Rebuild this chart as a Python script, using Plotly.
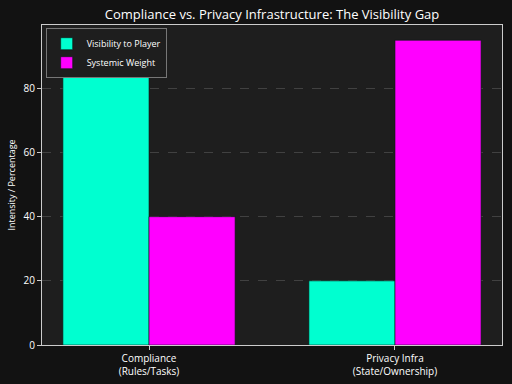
import plotly.graph_objects as go

categories = ["Compliance<br>(Rules/Tasks)", "Privacy Infra<br>(State/Ownership)"]
visibility = [85, 20]
systemic = [40, 95]
series_names = ["Visibility to Player", "Systemic Weight"]
y_ticks = [0, 20, 40, 60, 80]

FONT = "Open Sans"

fig = go.Figure()
fig.add_trace(go.Bar(x=categories, y=visibility, name=series_names[0],
                     marker=dict(color="#00FFD0", line=dict(color="#0a1a14", width=0.6))))
fig.add_trace(go.Bar(x=categories, y=systemic, name=series_names[1],
                     marker=dict(color="#FF00FF", line=dict(color="#0a1a14", width=0.6))))

fig.update_layout(
    width=512, height=384,
    barmode="group", bargap=0.3, bargroupgap=0,
    paper_bgcolor="#121212", plot_bgcolor="#1e1e1e",
    margin=dict(l=42, r=10, t=25, b=39, autoexpand=False),
    font=dict(family=FONT, color="white", size=10),
    title=dict(text="Compliance vs. Privacy Infrastructure: The Visibility Gap",
               x=272/512, xanchor="center", y=1-14/384, yanchor="middle",
               font=dict(size=13, color="white")),
    legend=dict(x=0.008, y=0.99, xanchor="left", yanchor="top",
                bgcolor="#1e1e1e", bordercolor="#777", borderwidth=1,
                font=dict(size=9, color="white"), itemwidth=30,
                tracegroupgap=0),
    showlegend=True,
)
fig.update_xaxes(range=[-0.435, 1.435], showgrid=False, automargin=False,
                 showline=True, linecolor="#cccccc", linewidth=1, mirror=True,
                 ticks="outside", ticklen=4, tickcolor="#cccccc",
                 tickfont=dict(size=10, color="white"))
fig.update_yaxes(range=[0, 99.75], tickvals=y_ticks, automargin=False,
                 showgrid=True, gridcolor="rgba(100,100,100,0.5)", griddash="dash", gridwidth=0.8,
                 layer="above traces", zeroline=False,
                 showline=True, linecolor="#cccccc", linewidth=1, mirror=True,
                 ticks="outside", ticklen=4, tickcolor="#cccccc",
                 tickfont=dict(size=10, color="white"),
                 title=dict(text="Intensity / Percentage", font=dict(size=9, color="white"), standoff=6))

fig.write_html("out.html", config={"displayModeBar": False},
               post_script="document.body.style.margin='0';document.body.style.overflow='hidden';document.body.style.background='#121212';")
